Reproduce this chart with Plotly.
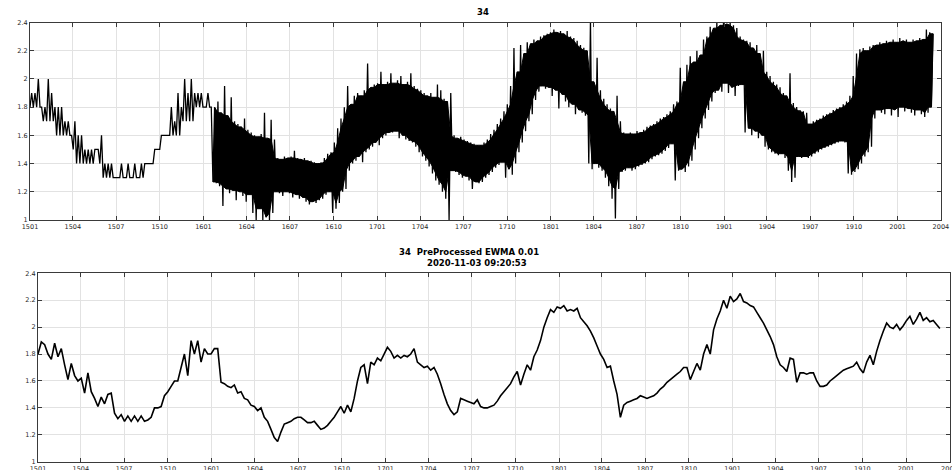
import pandas as pd
import plotly.graph_objects as go

# Raw sensor 34: weekly minimum / maximum of the high-rate signal (min/max decimation),
# one row per quarter, starting 2015-01-01.
RAW_LO = [
    1.8, 1.8, 1.8, 1.8, 1.7, 1.7, 1.7, 1.7, 1.6, 1.6, 1.6, 1.6, 1.6,
    1.5, 1.4, 1.4, 1.4, 1.4, 1.4, 1.4, 1.5, 1.4, 1.3, 1.3, 1.3, 1.3,
    1.3, 1.3, 1.3, 1.3, 1.3, 1.3, 1.3, 1.3, 1.3, 1.4, 1.4, 1.4, 1.5,
    1.5, 1.6, 1.6, 1.6, 1.6, 1.6, 1.6, 1.7, 1.7, 1.7, 1.7, 1.8, 1.8,
    1.8, 1.8, 1.8, 1.27, 1.26, 1.24, 1.10, 1.22, 1.19, 1.21, 1.14, 1.20, 1.17,
    1.13, 1.18, 1.05, 1.00, 1.08, 1.00, 1.02, 1.00, 1.05, 1.20, 1.19, 1.17, 1.20,
    1.19, 1.16, 1.18, 1.15, 1.16, 1.13, 1.11, 1.13, 1.12, 1.14, 1.15, 1.18, 1.20,
    1.05, 1.08, 1.12, 1.20, 1.22, 1.35, 1.40, 1.42, 1.45, 1.41, 1.48, 1.50, 1.52,
    1.55, 1.53, 1.58, 1.60, 1.62, 1.62, 1.63, 1.58, 1.60, 1.57, 1.56, 1.55, 1.52,
    1.48, 1.45, 1.42, 1.38, 1.33, 1.28, 1.25, 1.20, 1.15, 1.00, 1.35, 1.34, 1.32,
    1.30, 1.31, 1.28, 1.22, 1.27, 1.26, 1.27, 1.30, 1.32, 1.34, 1.37, 1.39, 1.41,
    1.30, 1.36, 1.32, 1.40, 1.48, 1.55, 1.63, 1.70, 1.75, 1.85, 1.91, 1.95, 1.93,
    1.94, 1.88, 1.92, 1.79, 1.89, 1.84, 1.80, 1.82, 1.75, 1.78, 1.76, 1.74, 1.40,
    1.36, 1.40, 1.37, 1.35, 1.30, 1.24, 1.15, 1.01, 1.22, 1.34, 1.35, 1.37, 1.35,
    1.36, 1.38, 1.39, 1.40, 1.41, 1.43, 1.45, 1.46, 1.47, 1.49, 1.51, 1.54, 1.28,
    1.35, 1.36, 1.34, 1.38, 1.42, 1.50, 1.58, 1.65, 1.72, 1.78, 1.84, 1.90, 1.92,
    1.91, 1.97, 1.90, 1.94, 1.88, 1.95, 1.96, 1.62, 1.65, 1.60, 1.63, 1.58, 1.60,
    1.52, 1.50, 1.48, 1.47, 1.46, 1.47, 1.44, 1.35, 1.27, 1.30, 1.45, 1.44, 1.45,
    1.44, 1.45, 1.47, 1.48, 1.50, 1.51, 1.52, 1.53, 1.54, 1.55, 1.56, 1.55, 1.33,
    1.32, 1.34, 1.36, 1.40, 1.45, 1.48, 1.52, 1.72, 1.78, 1.76, 1.75, 1.79, 1.74,
    1.78, 1.73, 1.80, 1.77, 1.79, 1.76, 1.74, 1.78, 1.75, 1.73, 1.76, 1.80,
]
RAW_HI = [
    1.9, 1.9, 2.0, 1.8, 1.8, 2.0, 1.9, 1.8, 1.8, 1.8, 1.7, 1.7, 1.6,
    1.7, 1.6, 1.6, 1.5, 1.5, 1.5, 1.5, 1.5, 1.6, 1.4, 1.4, 1.4, 1.3,
    1.3, 1.4, 1.3, 1.4, 1.3, 1.4, 1.3, 1.4, 1.4, 1.4, 1.4, 1.5, 1.5,
    1.6, 1.6, 1.6, 1.8, 1.7, 1.9, 1.8, 2.0, 1.9, 2.0, 1.9, 1.9, 1.9,
    1.8, 1.9, 1.8, 1.80, 1.84, 1.76, 1.95, 1.74, 1.87, 1.70, 1.68, 1.66, 1.72,
    1.64, 1.62, 1.60, 1.59, 1.61, 1.76, 1.58, 1.71, 1.57, 1.44, 1.43, 1.45, 1.44,
    1.45, 1.49, 1.44, 1.43, 1.44, 1.42, 1.42, 1.41, 1.40, 1.41, 1.44, 1.47, 1.48,
    1.55, 1.65, 1.72, 1.80, 1.95, 1.82, 1.88, 1.90, 1.88, 1.92, 2.11, 1.94, 1.96,
    1.97, 2.05, 1.96, 1.98, 2.04, 1.97, 1.99, 2.02, 1.96, 1.98, 2.04, 1.95, 1.93,
    1.92, 1.90, 1.88, 1.90, 1.87, 1.96, 1.92, 1.86, 1.84, 1.90, 1.60, 1.58, 1.59,
    1.57, 1.56, 1.55, 1.54, 1.53, 1.53, 1.55, 1.57, 1.61, 1.64, 1.68, 1.72, 1.77,
    1.82, 1.95, 2.22, 2.05, 2.24, 2.18, 2.26, 2.25, 2.28, 2.27, 2.30, 2.31, 2.32,
    2.33, 2.35, 2.33, 2.34, 2.32, 2.34, 2.30, 2.29, 2.27, 2.24, 2.22, 2.20, 2.41,
    1.98, 2.15, 1.92, 1.86, 1.82, 1.79, 1.77, 1.88, 1.70, 1.62, 1.61, 1.62, 1.61,
    1.63, 1.62, 1.64, 1.66, 1.67, 1.68, 1.70, 1.72, 1.73, 1.75, 1.77, 1.82, 1.84,
    2.08, 1.98, 2.10, 2.16, 2.12, 2.20, 2.17, 2.28, 2.30, 2.37, 2.36, 2.40, 2.38,
    2.40, 2.39, 2.40, 2.38, 2.36, 2.30, 2.28, 2.27, 2.26, 2.22, 2.24, 2.18, 2.20,
    2.05, 2.02, 1.98, 1.96, 1.94, 1.90, 1.88, 2.04, 1.83, 1.80, 1.78, 1.77, 1.76,
    1.68, 1.70, 1.71, 1.72, 1.74, 1.75, 1.76, 1.78, 1.79, 1.80, 1.82, 1.84, 1.88,
    2.02, 2.18, 2.21, 2.22, 2.20, 2.23, 2.24, 2.24, 2.26, 2.25, 2.27, 2.26, 2.28,
    2.26, 2.29, 2.27, 2.28, 2.26, 2.28, 2.27, 2.29, 2.28, 2.35, 2.33, 2.32,
]
# Pre-processed series (EWMA, alpha 0.01), weekly samples.
EWMA = [
    1.80, 1.89, 1.87, 1.80, 1.76, 1.88, 1.78, 1.84, 1.72, 1.61, 1.73, 1.64, 1.60,
    1.62, 1.51, 1.66, 1.52, 1.47, 1.41, 1.48, 1.43, 1.50, 1.51, 1.36, 1.32, 1.35,
    1.30, 1.34, 1.30, 1.34, 1.30, 1.34, 1.30, 1.31, 1.33, 1.40, 1.40, 1.41, 1.49,
    1.52, 1.56, 1.60, 1.60, 1.70, 1.80, 1.64, 1.90, 1.80, 1.90, 1.74, 1.84, 1.80,
    1.80, 1.84, 1.84, 1.59, 1.58, 1.56, 1.55, 1.57, 1.51, 1.52, 1.47, 1.46, 1.42,
    1.41, 1.38, 1.40, 1.33, 1.30, 1.24, 1.18, 1.15, 1.22, 1.28, 1.29, 1.30, 1.32,
    1.33, 1.33, 1.31, 1.29, 1.29, 1.30, 1.27, 1.24, 1.25, 1.27, 1.30, 1.33, 1.37,
    1.41, 1.36, 1.42, 1.37, 1.47, 1.60, 1.70, 1.72, 1.58, 1.74, 1.72, 1.77, 1.75,
    1.80, 1.85, 1.82, 1.77, 1.79, 1.77, 1.79, 1.78, 1.80, 1.84, 1.74, 1.72, 1.70,
    1.71, 1.68, 1.70, 1.65, 1.58, 1.50, 1.43, 1.38, 1.35, 1.37, 1.47, 1.46, 1.45,
    1.44, 1.43, 1.46, 1.41, 1.40, 1.40, 1.41, 1.42, 1.45, 1.49, 1.52, 1.55, 1.58,
    1.63, 1.67, 1.57, 1.65, 1.72, 1.68, 1.78, 1.83, 1.90, 2.00, 2.07, 2.13, 2.11,
    2.15, 2.14, 2.16, 2.12, 2.13, 2.12, 2.14, 2.07, 2.04, 2.01, 1.97, 1.92, 1.86,
    1.80, 1.76, 1.70, 1.71, 1.60, 1.50, 1.33, 1.42, 1.44, 1.45, 1.46, 1.47, 1.49,
    1.48, 1.47, 1.48, 1.49, 1.51, 1.54, 1.56, 1.59, 1.61, 1.63, 1.65, 1.67, 1.70,
    1.70, 1.61, 1.67, 1.73, 1.68, 1.80, 1.87, 1.80, 1.98, 2.06, 2.12, 2.20, 2.14,
    2.23, 2.19, 2.21, 2.25, 2.19, 2.18, 2.16, 2.15, 2.11, 2.07, 2.03, 1.98, 1.93,
    1.87, 1.78, 1.72, 1.70, 1.67, 1.77, 1.76, 1.59, 1.66, 1.66, 1.65, 1.66, 1.66,
    1.60, 1.56, 1.56, 1.57, 1.60, 1.62, 1.64, 1.66, 1.68, 1.69, 1.70, 1.71, 1.74,
    1.69, 1.66, 1.74, 1.79, 1.72, 1.82, 1.90, 1.97, 2.03, 2.00, 1.99, 2.02, 1.98,
    2.01, 2.05, 2.08, 2.02, 2.06, 2.11, 2.05, 2.07, 2.04, 2.05, 2.02, 1.99,
]

START = "2015-01-01"
DENSE_FROM = "2016-01-21"   # sampling switches from quantised steps to a dense signal
X_RANGE = ["2015-01-01", "2020-04-01 06:00"]
Y_RANGE = [1, 2.4]
TITLE_TOP = "34"
TITLE_BOTTOM = "34\u00a0 PreProcessed EWMA 0.01"
STAMP = "2020-11-03 09:20:53"

weeks = pd.date_range(START, periods=len(RAW_LO), freq="7D")
half_week = pd.Timedelta(hours=84)

# expand each weekly (min, max) pair into a down/up stroke
raw_x, raw_y = [], []
for d, lo, hi in zip(weeks, RAW_LO, RAW_HI):
    raw_x += [d, d + half_week]
    raw_y += [lo, hi]

# solid body of the dense record: the range covered in three consecutive weeks;
# single-week excursions stay visible as strokes only
dense = [i for i, d in enumerate(weeks) if d >= pd.Timestamp(DENSE_FROM)]
hi_s = pd.Series([RAW_HI[i] for i in dense])
lo_s = pd.Series([RAW_LO[i] for i in dense])
core_hi = hi_s.rolling(3, center=True, min_periods=1).min()
core_lo = lo_s.rolling(3, center=True, min_periods=1).max()
core_hi = [max(h, l) for h, l in zip(core_hi, core_lo)]
core_lo = list(core_lo)
band_x = [weeks[i] + half_week for i in dense] + [weeks[i] for i in reversed(dense)]
band_y = list(core_hi) + core_lo[::-1]

ewma_x = pd.date_range(START, periods=len(EWMA), freq="7D")

AX = "#3a3a3a"
GRID = "#e2e2e2"
TICKFONT = dict(family="DejaVu Sans", size=6.5, color="#262626")
TITLEFONT = dict(family="DejaVu Sans", size=8.5, color="#000000", weight="bold")


def x_axis(domain, anchor):
    return dict(
        domain=domain, anchor=anchor, type="date", range=X_RANGE,
        tick0=START, dtick="M3", tickformat="%y%m",
        showgrid=True, gridcolor=GRID, gridwidth=1,
        showline=True, linecolor=AX, linewidth=1, mirror="ticks",
        ticks="inside", ticklen=4, tickwidth=1, tickcolor=AX,
        tickfont=TICKFONT, zeroline=False, automargin=False,
        ticklabeloverflow="allow",
    )


def y_axis(domain, anchor):
    return dict(
        domain=domain, anchor=anchor, range=Y_RANGE, tick0=1, dtick=0.2,
        showgrid=True, gridcolor=GRID, gridwidth=1,
        showline=True, linecolor=AX, linewidth=1, mirror="ticks",
        ticks="inside", ticklen=4, tickwidth=1, tickcolor=AX,
        tickfont=TICKFONT, zeroline=False, automargin=False,
    )


W, H = 952, 470

fig = go.Figure()
fig.add_trace(go.Scatter(
    x=band_x, y=band_y, mode="lines", xaxis="x", yaxis="y",
    fill="toself", fillcolor="black",
    line=dict(color="black", width=1, simplify=False),
    hoverinfo="skip", showlegend=False,
))
fig.add_trace(go.Scatter(
    x=raw_x, y=raw_y, mode="lines", xaxis="x", yaxis="y",
    line=dict(color="black", width=1.3, simplify=False),
    hoverinfo="skip", showlegend=False,
))
fig.add_trace(go.Scatter(
    x=ewma_x, y=EWMA, mode="lines", xaxis="x2", yaxis="y2",
    line=dict(color="black", width=1.6, simplify=False), showlegend=False,
))

fig.update_layout(
    width=W, height=H, autosize=False,
    margin=dict(l=0, r=0, t=0, b=0),
    paper_bgcolor="white", plot_bgcolor="white",
    xaxis=x_axis([30 / W, 941 / W], "y"),
    yaxis=y_axis([1 - 220 / H, 1 - 22.5 / H], "x"),
    xaxis2=x_axis([38 / W, 949.5 / W], "y2"),
    yaxis2=y_axis([1 - 461.7 / H, 1 - 273.3 / H], "x2"),
    annotations=[
        dict(text=TITLE_TOP, x=483 / W, y=1 - 12 / H, xref="paper", yref="paper",
             showarrow=False, font=TITLEFONT, xanchor="center", yanchor="middle"),
        dict(text=TITLE_BOTTOM, x=469 / W, y=1 - 251.7 / H, xref="paper", yref="paper",
             showarrow=False, font=TITLEFONT, xanchor="center", yanchor="middle"),
        dict(text=STAMP, x=477 / W, y=1 - 263.3 / H, xref="paper", yref="paper",
             showarrow=False, font=TITLEFONT, xanchor="center", yanchor="middle"),
    ],
)

fig.write_html("out.html")
